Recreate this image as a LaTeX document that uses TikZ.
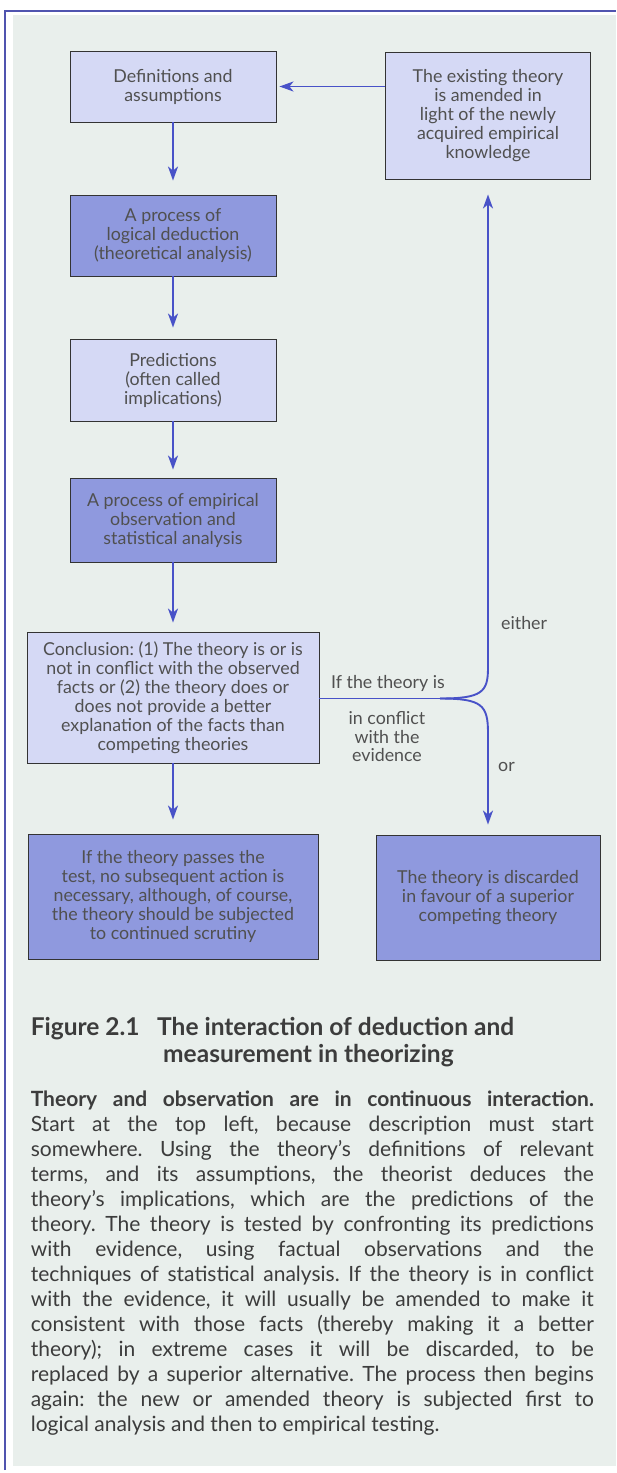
\documentclass[tikz,border=0pt]{standalone}
\usepackage{fontspec}
\setmainfont{Lato}
\usetikzlibrary{arrows.meta}
\definecolor{lightbox}{RGB}{213,217,245}
\definecolor{darkbox}{RGB}{143,153,222}
\definecolor{panelbg}{RGB}{233,239,236}
\definecolor{arrowblue}{RGB}{72,82,200}
\definecolor{framecol}{RGB}{80,84,175}
\definecolor{txt}{RGB}{80,80,80}
\definecolor{captxt}{RGB}{60,60,60}
\frenchspacing
\begin{document}
\begin{tikzpicture}[x=1pt,y=-1pt,
  box/.style={draw=black!80, line width=0.9pt, align=center, text=txt,
    font=\fontsize{17.8}{19}\selectfont\frenchspacing, inner sep=0pt},
  light/.style={box, fill=lightbox},
  dark/.style={box, fill=darkbox},
  arr/.style={draw=arrowblue, line width=1.9pt, -{Stealth[length=14pt,width=10pt,inset=4pt]}},
  conn/.style={draw=arrowblue, line width=1.9pt},
  lbl/.style={text=txt, font=\fontsize{17.8}{18.5}\selectfont, inner sep=0pt, align=center},
  para/.style={text=captxt, font=\fontsize{21}{25}\selectfont\frenchspacing, inner sep=0pt, anchor=base west},
  captext/.style={text=captxt, font=\fontsize{24.5}{28}\selectfont\bfseries, inner sep=0pt, anchor=base west}
]
\path[use as bounding box] (0,0) rectangle (616,1473);
\fill[white] (0,0) rectangle (616,1473);
\fill[panelbg] (13,15) rectangle (616,1466);
\draw[framecol, line width=1.5pt] (5,1470) -- (5,11) -- (616,11);

% boxes
\node[light, minimum width=206pt, minimum height=71pt] (defn) at (173,86.5)
  {Definitions and\\assumptions};
\node[light, minimum width=204.5pt, minimum height=127pt] (exist) at (488,115.5)
  {The existing theory\\is amended in\\light of the newly\\acquired empirical\\knowledge};
\node[dark, minimum width=206pt, minimum height=81pt] (logic) at (173,235.5)
  {A process of\\logical deduction\\(theoretical analysis)};
\node[light, minimum width=206pt, minimum height=82pt] (pred) at (173,380)
  {Predictions\\(often called\\implications)};
\node[dark, minimum width=206pt, minimum height=84pt] (emp) at (173,520)
  {A process of empirical\\observation and\\statistical analysis};
\node[light, minimum width=292pt, minimum height=131pt] (concl) at (173,697.5)
  {Conclusion: (1) The theory is or is\\not in conflict with the observed\\facts or (2) the theory does or\\does not provide a better\\explanation of the facts than\\competing theories};
\node[dark, minimum width=290pt, minimum height=125pt] (pass) at (173,896.5)
  {If the theory passes the\\test, no subsequent action is\\necessary, although, of course,\\the theory should be subjected\\to continued scrutiny};
\node[dark, minimum width=224pt, minimum height=125pt] (disc) at (488,897.5)
  {The theory is discarded\\in favour of a superior\\competing theory};

% arrows
\draw[arr, shorten >=3pt] (exist.west |- defn.east) -- (defn.east);
\draw[arr, shorten >=14pt] (defn.south) -- (logic.north);
\draw[arr, shorten >=11pt] (logic.south) -- (pred.north);
\draw[arr, shorten >=8pt] (pred.south) -- (emp.north);
\draw[arr, shorten >=9pt] (emp.south) -- (concl.north);
\draw[arr, shorten >=14pt] (concl.south) -- (pass.north);

\coordinate (fork) at (440,698.5);
\draw[conn] (concl.east |- fork) -- (fork);
\draw[arr, shorten >=15pt] (fork) .. controls (482,698.5) and (488,692) .. (488,668) -- (exist.south);
\draw[arr, shorten >=10pt] (fork) .. controls (482,698.5) and (488,705) .. (488,733) -- (disc.north);

% labels
\node[lbl, anchor=west] (either) at (501,623) {either};
\node[lbl, anchor=west] (orl) at (498,767) {or};
\node[lbl] (iftheory) at (388,683) {If the theory is};
\node[lbl] (conflict) at (387,737) {in conflict\\with the\\evidence};

% caption
\node[captext] (fig) at (30.6,1035) {Figure 2.1};
\node[captext] (captitle1) at (157,1035) {The interaction of deduction and};
\node[captext] (captitle2) at (163,1062.5) {measurement in theorizing};

% paragraph
\node[para] (p1) at (30.6,1106) {\makebox[563pt][s]{\bfseries Theory and observation are in continuous interaction.}};
\node[para] (p2) at (30.6,1131) {\makebox[563pt][s]{Start at the top left, because description must start}};
\node[para] (p3) at (30.6,1156.1) {\makebox[563pt][s]{somewhere. Using the theory’s definitions of relevant}};
\node[para] (p4) at (30.6,1181.2) {\makebox[563pt][s]{terms, and its assumptions, the theorist deduces the}};
\node[para] (p5) at (30.6,1206.2) {\makebox[563pt][s]{theory’s implications, which are the predictions of the}};
\node[para] (p6) at (30.6,1231.3) {\makebox[563pt][s]{theory. The theory is tested by confronting its predictions}};
\node[para] (p7) at (30.6,1256.3) {\makebox[563pt][s]{with evidence, using factual observations and the}};
\node[para] (p8) at (30.6,1281.4) {\makebox[563pt][s]{techniques of statistical analysis. If the theory is in conflict}};
\node[para] (p9) at (30.6,1306.4) {\makebox[563pt][s]{with the evidence, it will usually be amended to make it}};
\node[para] (p10) at (30.6,1331.5) {\makebox[563pt][s]{consistent with those facts (thereby making it a better}};
\node[para] (p11) at (30.6,1356.5) {\makebox[563pt][s]{theory); in extreme cases it will be discarded, to be}};
\node[para] (p12) at (30.6,1381.6) {\makebox[563pt][s]{replaced by a superior alternative. The process then begins}};
\node[para] (p13) at (30.6,1406.6) {\makebox[563pt][s]{again: the new or amended theory is subjected first to}};
\node[para] (p14) at (30.6,1431.7) {logical analysis and then to empirical testing.};
\end{tikzpicture}
\end{document}
